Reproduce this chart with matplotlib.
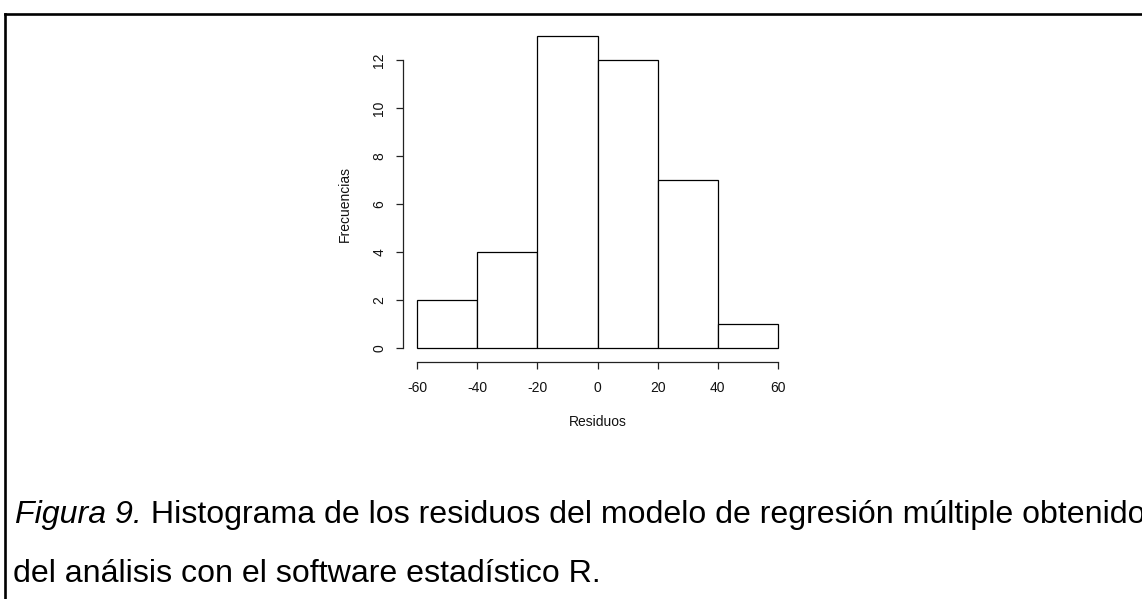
import matplotlib.pyplot as plt
from matplotlib.lines import Line2D

plt.rcParams['font.family'] = ['Liberation Sans', 'DejaVu Sans']
plt.rcParams['axes.unicode_minus'] = False

# histogram of residuals
bin_edges = [-60, -40, -20, 0, 20, 40, 60]
counts = [2, 4, 13, 12, 7, 1]
x_ticks = [-60, -40, -20, 0, 20, 40, 60]
y_ticks = [0, 2, 4, 6, 8, 10, 12]

W, H = 1142, 599
fig = plt.figure(figsize=(W / 100, H / 100), dpi=100)

# axes box in pixels (left, right, top, bottom)
L, R, T, B = 403, 792, 30, 362
ax = fig.add_axes([L / W, 1 - B / H, (R - L) / W, (B - T) / H])

px_x = (778 - 417) / 120.0
ax.set_xlim(-60 - (417 - L) / px_x, 60 + (R - 778) / px_x)
ax.set_ylim(-(B - 348) / 24.0, (348 - T) / 24.0)

ax.bar(bin_edges[:-1], counts, width=20, align='edge',
       facecolor='white', edgecolor='black', linewidth=0.9)

for s in ['top', 'right']:
    ax.spines[s].set_visible(False)
ax.spines['left'].set_bounds(0, 12)
ax.spines['bottom'].set_bounds(-60, 60)
for s in ['left', 'bottom']:
    ax.spines[s].set_linewidth(0.9)
    ax.spines[s].set_color('#222222')

ax.set_xticks(x_ticks)
ax.set_yticks(y_ticks)
ax.tick_params(axis='both', length=5, width=0.9, color='#222222',
               labelsize=10, labelcolor='#111111')
ax.tick_params(axis='x', pad=9)
ax.tick_params(axis='y', pad=7, labelrotation=90)
for lab in ax.get_yticklabels():
    lab.set_va('center')

fig.text(345 / W, 1 - 204 / H, 'Frecuencias', rotation=90,
         ha='center', va='center', fontsize=10, color='#111111')
fig.text(598 / W, 1 - 422 / H, 'Residuos',
         ha='center', va='center', fontsize=10, color='#111111')

# caption below the plot (runs past the right edge)
cap_size = 23.1
t1 = fig.text(15 / W, 1 - 523 / H, 'Figura 9.', style='italic',
              ha='left', va='baseline', fontsize=cap_size)
fig.canvas.draw()
bb = t1.get_window_extent(renderer=fig.canvas.get_renderer())
fig.text(bb.x1 / W, 1 - 523 / H,
         ' Histograma de los residuos del modelo de regresión múltiple obtenido',
         ha='left', va='baseline', fontsize=cap_size)
fig.text(13 / W, 1 - 582 / H, 'del análisis con el software estadístico R.',
         ha='left', va='baseline', fontsize=cap_size)

# frame lines on the top and left edge
fig.add_artist(Line2D([4.5 / W, 1], [1 - 13.5 / H, 1 - 13.5 / H],
                      transform=fig.transFigure, color='black', lw=1.9))
fig.add_artist(Line2D([4.5 / W, 4.5 / W], [0, 1 - 13.5 / H],
                      transform=fig.transFigure, color='black', lw=1.9))

fig.savefig('out.png', dpi=100)
